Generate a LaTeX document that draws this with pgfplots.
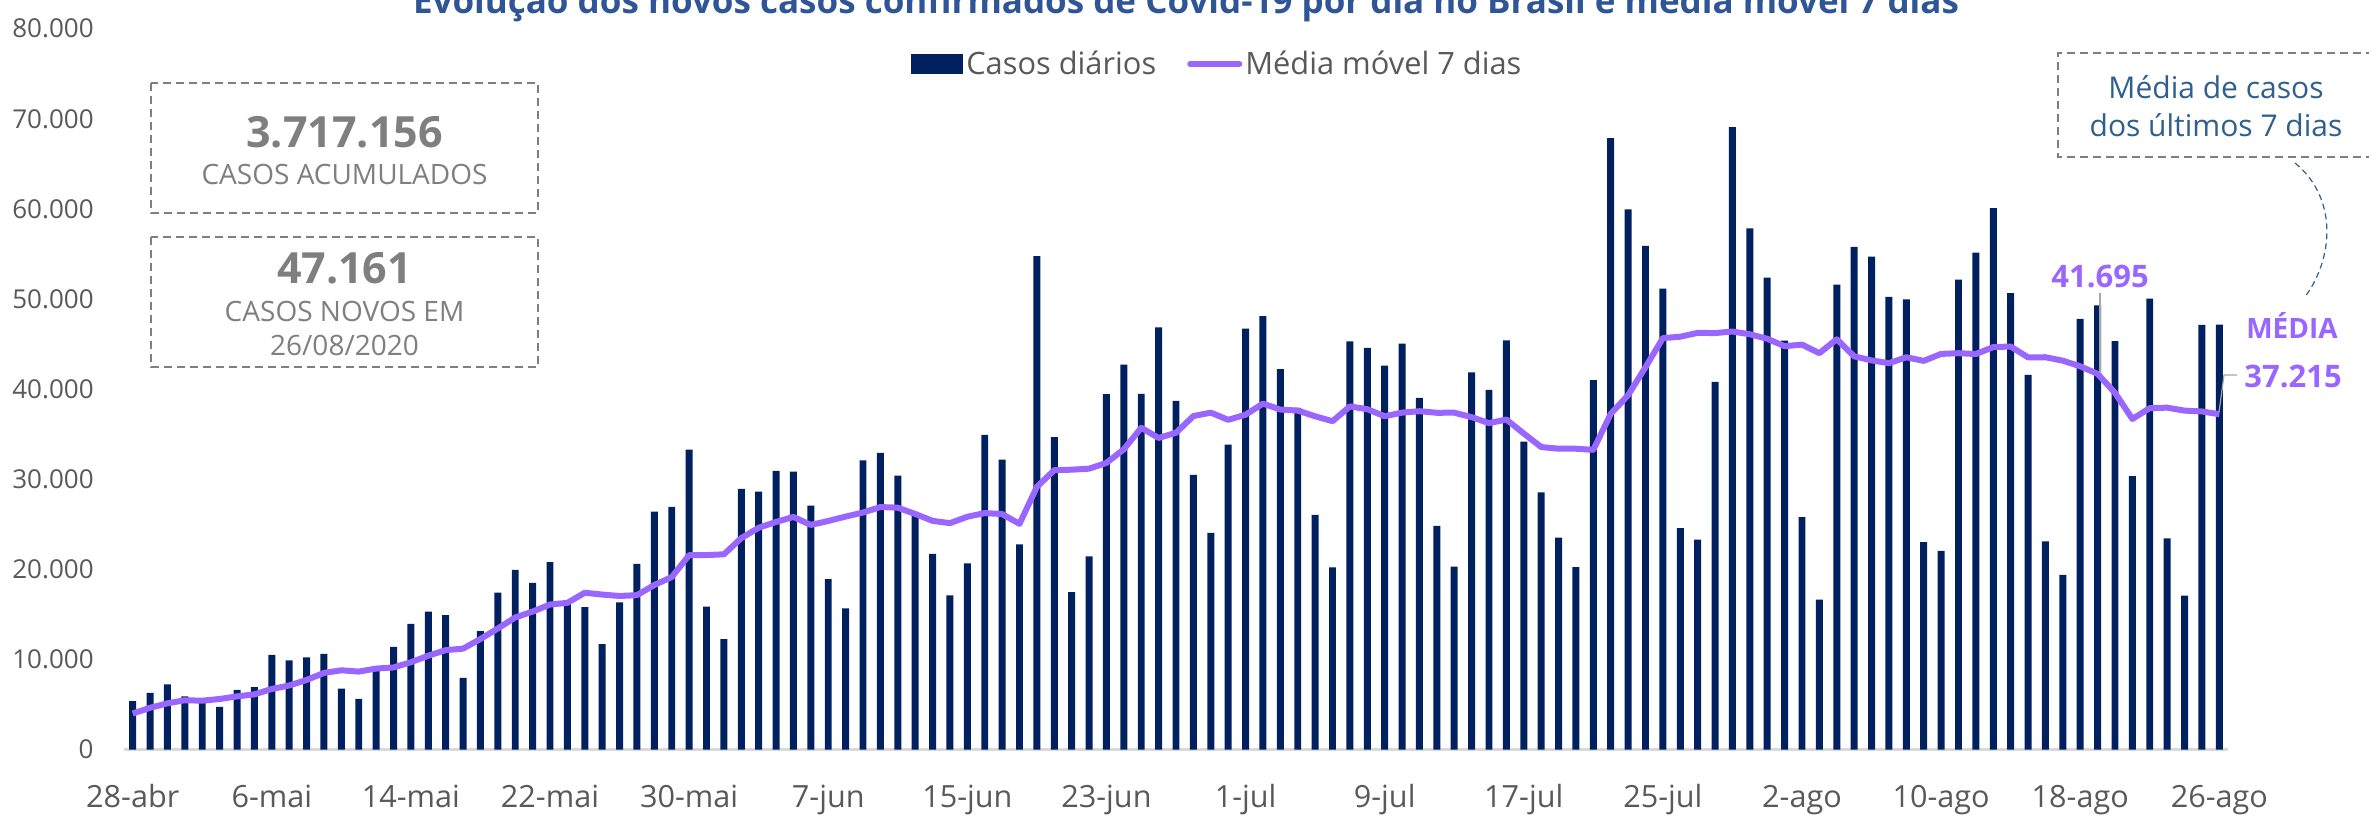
\documentclass[border=0pt]{standalone}
\usepackage{pgfplots}
\pgfplotsset{compat=1.18}
\usepackage{pgfplotstable}
\usepackage{fontspec}
\setmainfont{Open Sans}
\definecolor{barblue}{RGB}{0,32,96}
\definecolor{purp}{HTML}{9966FF}
\definecolor{textgray}{HTML}{595959}
\definecolor{numgray}{HTML}{7F7F7F}
\definecolor{axisgray}{HTML}{D9D9D9}
\definecolor{titleblue}{HTML}{2F5597}
\definecolor{annoblue}{HTML}{2F5F8F}
\definecolor{leadgray}{HTML}{A6A6A6}

\pgfplotstableread{
d v
0 5385
1 6276
2 7218
3 5900
4 5150
5 4726
6 6633
7 6935
8 10503
9 9888
10 10222
11 10611
12 6760
13 5632
14 9258
15 11385
16 13944
17 15305
18 14919
19 7938
20 13140
21 17408
22 19951
23 18508
24 20803
25 16200
26 15813
27 11687
28 16324
29 20599
30 26417
31 26928
32 33274
33 15850
34 12250
35 28936
36 28633
37 30925
38 30830
39 27075
40 18912
41 15654
42 32091
43 32913
44 30412
45 25982
46 21704
47 17110
48 20647
49 34918
50 32188
51 22765
52 54771
53 34666
54 17459
55 21432
56 39436
57 42725
58 39483
59 46860
60 38693
61 30476
62 24052
63 33846
64 46712
65 48105
66 42223
67 37923
68 26051
69 20229
70 45305
71 44571
72 42619
73 45048
74 39023
75 24831
76 20286
77 41857
78 39924
79 45403
80 34177
81 28532
82 23529
83 20257
84 41008
85 67860
86 59961
87 55891
88 51147
89 24578
90 23284
91 40816
92 69074
93 57837
94 52383
95 45392
96 25800
97 16641
98 51603
99 55800
100 54700
101 50230
102 49970
103 23010
104 22048
105 52160
106 55155
107 60091
108 50644
109 41576
110 23101
111 19373
112 47784
113 49298
114 45323
115 30355
116 50032
117 23421
118 17078
119 47134
120 47161
}\daily

\pgfplotstableread{
d m
0 4000
1 4630
2 5130
3 5470
4 5420
5 5610
6 5898
7 6120
8 6724
9 7105
10 7722
11 8503
12 8793
13 8650
14 8982
15 9108
16 9687
17 10414
18 11029
19 11197
20 12270
21 13434
22 14658
23 15310
24 16095
25 16278
26 17403
27 17196
28 17041
29 17133
30 18263
31 19138
32 21577
33 21583
34 21663
35 23465
36 24613
37 25257
38 25814
39 24928
40 25366
41 25852
42 26303
43 26914
44 26841
45 26148
46 25381
47 25124
48 25837
49 26241
50 26137
51 25045
52 29158
53 31009
54 31059
55 31171
56 31817
57 33322
58 35710
59 34580
60 35155
61 37015
62 37389
63 36591
64 37160
65 38392
66 37730
67 37620
68 36987
69 36441
70 38078
71 37772
72 36989
73 37392
74 37549
75 37375
76 37383
77 36891
78 36227
79 36625
80 35072
81 33573
82 33387
83 33383
84 33261
85 37252
86 39332
87 42434
88 45665
89 45815
90 46247
91 46220
92 46393
93 46090
94 45588
95 44766
96 44941
97 43992
98 45533
99 43637
100 43188
101 42881
102 43535
103 43136
104 43909
105 43988
106 43896
107 44666
108 44725
109 43526
110 43539
111 43157
112 42532
113 41695
114 39586
115 36687
116 37895
117 37941
118 37613
119 37520
120 37215
}\media

\begin{document}
\begin{tikzpicture}
\begin{axis}[
  at={(62pt,-374.75pt)}, anchor=south west,
  scale only axis, width=1052pt, height=360.4pt,
  xmin=-0.5, xmax=120.5, ymin=0, ymax=80000,
  enlargelimits=false,
  axis x line*=bottom, axis y line*=left,
  axis line style={-},
  x axis line style={draw=axisgray, line width=1.3pt},
  y axis line style={draw=none},
  major tick length=0pt,
  scaled y ticks=false,
  xtick={0,8,...,120},
  xticklabels={28-abr,6-mai,14-mai,22-mai,30-mai,7-jun,15-jun,23-jun,1-jul,9-jul,17-jul,25-jul,2-ago,10-ago,18-ago,26-ago},
  ytick={0,10000,20000,30000,40000,50000,60000,70000,80000},
  yticklabels={0,10.000,20.000,30.000,40.000,50.000,60.000,70.000,80.000},
  xticklabel style={anchor=base, yshift=-28.75pt, inner sep=0pt, font=\fontsize{15.3}{18}\selectfont, text=textgray},
  yticklabel style={anchor=east, xshift=-15pt, inner sep=0pt, font=\fontsize{13}{15}\selectfont, text=textgray},
  legend style={at={(0.374,0.951)}, anchor=west, draw=none, fill=none, inner sep=0pt,
    legend columns=2, font=\fontsize{15.4}{18}\selectfont, text=textgray,
    nodes={inner sep=1.5pt},
    /tikz/every even column/.append style={column sep=14pt}},
  legend cell align=left,
]
\addplot[ybar, bar width=0.4, fill=barblue, draw=none,
  legend image code/.code={\fill[barblue] (0pt,-5pt) rectangle (26pt,5pt);}]
  table[x=d, y=v] {\daily};
\addlegendentry{Casos diários}
\addplot[purp, line width=3pt, line join=round, mark=none,
  legend image code/.code={\draw[purp, line width=3pt, line cap=round] (1.5pt,0pt) -- (26pt,0pt);}]
  table[x=d, y=m] {\media};
\addlegendentry{Média móvel 7 dias}
\end{axis}

\begin{scope}[x=0.5pt,y=-0.5pt]
\node[anchor=base, inner sep=0pt, font=\bfseries\fontsize{17.5}{20}\selectfont, text=titleblue] at (1186,13) {Evolução dos novos casos confirmados de Covid-19 por dia no Brasil e média móvel 7 dias};
% box 1
\draw[numgray, line width=1pt, dash pattern=on 4pt off 2.5pt] (151,83) rectangle (538,213);
\node[anchor=base, inner sep=0pt, font=\bfseries\fontsize{21.5}{24}\selectfont, text=numgray] at (344.5,147) {3.717.156};
\node[anchor=base, inner sep=0pt, font=\fontsize{14}{16}\selectfont, text=numgray] at (344.5,184) {CASOS ACUMULADOS};
% box 2
\draw[numgray, line width=1pt, dash pattern=on 4pt off 2.5pt] (151,237) rectangle (538,367);
\node[anchor=base, inner sep=0pt, font=\bfseries\fontsize{21.5}{24}\selectfont, text=numgray] at (344.5,283) {47.161};
\node[anchor=base, inner sep=0pt, font=\fontsize{14}{16}\selectfont, text=numgray] at (344.5,321) {CASOS NOVOS EM};
\node[anchor=base, inner sep=0pt, font=\fontsize{14}{16}\selectfont, text=numgray] at (344.5,355) {26/08/2020};
% box 3
\draw[numgray, line width=1pt, dash pattern=on 4pt off 2.5pt] (2400,53) -- (2058,53) -- (2058,157) -- (2400,157);
\node[anchor=base, inner sep=0pt, font=\fontsize{15}{18}\selectfont, text=annoblue] at (2216,98) {Média de casos};
\node[anchor=base, inner sep=0pt, font=\fontsize{15}{18}\selectfont, text=annoblue] at (2216,136) {dos últimos 7 dias};
\draw[annoblue, line width=0.6pt, dash pattern=on 3pt off 2pt] (2295,163) .. controls (2340,200) and (2332,262) .. (2304,298);
% labels
\node[anchor=base, inner sep=0pt, font=\bfseries\fontsize{15.5}{18}\selectfont, text=purp] at (2100,287) {41.695};
\draw[leadgray, line width=0.6pt] (2100,293) -- (2100,373);
\node[anchor=base, inner sep=0pt, font=\bfseries\fontsize{14}{17}\selectfont, text=purp] at (2292,338) {MÉDIA};
\node[anchor=base, inner sep=0pt, font=\bfseries\fontsize{15.5}{18}\selectfont, text=purp] at (2293,387) {37.215};
\draw[leadgray, line width=0.6pt] (2219,412) -- (2224,375) -- (2237,375);
\pgfresetboundingbox
\useasboundingbox (0,0) rectangle (2369,815);
\end{scope}
\end{tikzpicture}
\end{document}
